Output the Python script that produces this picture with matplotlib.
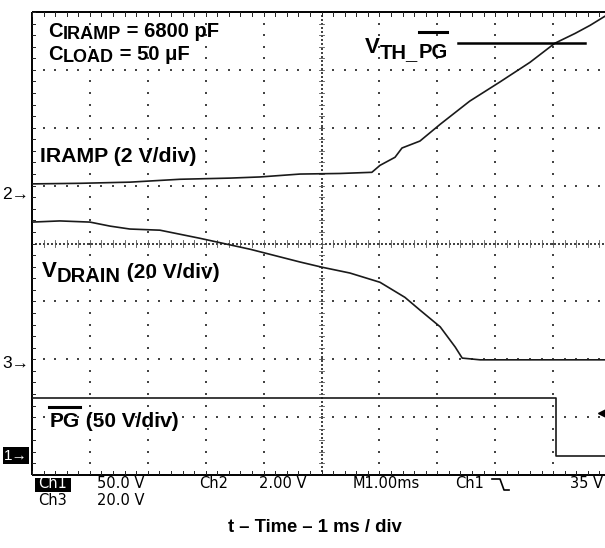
import numpy as np
import matplotlib
matplotlib.use('Agg')
import matplotlib.pyplot as plt
from matplotlib.lines import Line2D
from matplotlib.patches import Rectangle

W, H = 605, 548

# traces, in divisions (x: 1 ms/div, y: 8 div high)
iramp_t = [0.00, 0.83, 1.69, 2.56, 3.42, 3.94, 4.63, 5.32, 5.87, 6.01, 6.27, 6.39,
           6.70, 7.05, 7.56, 8.08, 8.60, 9.03, 9.38, 9.64, 9.90]
iramp_v = [5.03, 5.04, 5.06, 5.11, 5.13, 5.15, 5.20, 5.21, 5.23, 5.35, 5.49, 5.65,
           5.77, 6.06, 6.46, 6.79, 7.13, 7.46, 7.63, 7.77, 7.93]

vdrain_t = [0.00, 0.48, 1.00, 1.35, 1.69, 2.21, 2.90, 3.77, 4.63, 5.01, 5.49, 6.01,
            6.44, 6.70, 7.05, 7.31, 7.43, 7.74, 9.90]
vdrain_v = [4.37, 4.39, 4.37, 4.30, 4.25, 4.23, 4.09, 3.90, 3.68, 3.59, 3.49, 3.33,
            3.07, 2.85, 2.56, 2.21, 2.02, 1.99, 1.99]

pg_t = [0.00, 9.05, 9.05, 9.90]
pg_v = [1.33, 1.33, 0.33, 0.33]

vth_t = [7.36, 9.55]
vth_v = [7.46, 7.46]

# channel ground markers and trigger level
gnd_labels = ['2', '3', '1']
gnd_y = [4.84, 1.93, 0.33]
trig_y = 1.07

BOLD = ['Liberation Sans', 'DejaVu Sans']
SCOPE = 'DejaVu Sans'

fig = plt.figure(figsize=(W / 100, H / 100), dpi=100)
ax = fig.add_axes([32 / W, 73 / H, 579 / W, 463 / H])
ax.set_xlim(0, 10)
ax.set_ylim(0, 8)
ax.axis('off')

# graticule
minor_x = np.arange(0, 10.01, 0.2)
minor_y = np.arange(0, 8.01, 0.2)
dot = dict(marker='s', s=0.8, color='#444444', linewidths=0, clip_on=False)
for i in range(1, 10):
    if i != 5:
        ax.scatter(np.full_like(minor_y, i), minor_y, **dot)
for j in range(1, 8):
    if j != 4:
        ax.scatter(minor_x, np.full_like(minor_x, j), **dot)
# centre cross
ax.scatter(np.full(115, 5.0), np.linspace(0, 8, 115), **dot)
ax.scatter(np.linspace(0, 10, 145), np.full(145, 4.0), **dot)
for y in minor_y:
    ax.plot([4.95, 5.05], [y, y], color='#555555', lw=0.6)
for x in minor_x:
    ax.plot([x, x], [3.94, 4.06], color='#555555', lw=0.6)
# frame and its ticks
fr = dict(color='black', lw=1.4, clip_on=False, solid_capstyle='butt')
ax.plot([0, 10.5], [8, 8], **fr)
ax.plot([0, 10.5], [0, 0], **fr)
ax.plot([0, 0], [0, 8], **fr)
for x in minor_x:
    ax.plot([x, x], [8, 7.93], color='#222222', lw=0.7)
    ax.plot([x, x], [0, 0.07], color='#222222', lw=0.7)
for y in minor_y:
    ax.plot([0, 0.06], [y, y], color='#222222', lw=0.7)

# traces
tr = dict(color='#1a1a1a', lw=1.2)
ax.plot(iramp_t, iramp_v, **tr)
ax.plot(vdrain_t, vdrain_v, **tr)
ax.plot(pg_t, pg_v, **tr)
ax.plot(vth_t, vth_v, color='black', lw=1.8)

# ground markers
for lab, y in zip(gnd_labels, gnd_y):
    if lab == '1':
        ax.text(-0.07, y, lab + '\u2192', ha='right', va='center', fontsize=11,
                family=BOLD, color='white', clip_on=False,
                bbox=dict(boxstyle='square,pad=0.1', fc='black', ec='none'))
    else:
        ax.text(-0.05, y, lab + '\u2192', ha='right', va='center', fontsize=12.5,
                family=BOLD, clip_on=False)
ax.plot([9.86], [trig_y], marker='<', ms=7, color='black', clip_on=False)

r = fig.canvas.get_renderer()


def rich(x, y, parts):
    xs = [x]
    for s, size, dy in parts:
        t = fig.text(x / W, 1 - (y + dy) / H, s, fontsize=size, fontweight='bold',
                     family=BOLD, va='baseline', ha='left')
        x += t.get_window_extent(r).width
        xs.append(x)
    return xs


def overline(x0, x1, y, lw=2.2):
    fig.add_artist(Line2D([x0 / W, x1 / W], [1 - y / H] * 2, color='black', lw=lw))


rich(48, 37, [('C', 14.5, 0), ('IRAMP', 13, 2), (' = 6800 pF', 14.5, 0)])
rich(48, 60, [('C', 14.5, 0), ('LOAD', 13, 2), (' = 50 \u03bcF', 14.5, 0)])
xs = rich(365, 53, [('V', 16, 0), ('TH_', 14.5, 5), ('PG', 14.5, 5)])
overline(xs[2] + 1, xs[3], 32)
rich(40, 162, [('IRAMP (2 V/div)', 15.3, 0)])
rich(42, 277, [('V', 16, 0), ('DRAIN', 14.5, 5), (' (20 V/div)', 15, 1)])
xs = rich(50, 427, [('PG', 15, 0), (' (50 V/div)', 15, 0)])
overline(xs[0] - 1, xs[1], 407)

# scope status line: two rows stacked top to top
row1, row2 = 476, 493
st = dict(fontsize=10.5, family=SCOPE, va='top', ha='left')
fig.add_artist(Rectangle((35 / W, 1 - 492 / H), 36 / W, 14 / H, fc='black', ec='none'))
fig.text(38 / W, 1 - row1 / H, 'Ch1', color='white', **st)
fig.text(38 / W, 1 - row2 / H, 'Ch3', **st)
fig.text(97 / W, 1 - row1 / H, '50.0 V', **st)
fig.text(97 / W, 1 - row2 / H, '20.0 V', **st)
fig.text(199 / W, 1 - row1 / H, 'Ch2', **st)
fig.text(259 / W, 1 - row1 / H, '2.00 V', **st)
fig.text(353 / W, 1 - row1 / H, 'M1.00ms', **st)
fig.text(455 / W, 1 - row1 / H, 'Ch1', **st)
fig.text(570 / W, 1 - row1 / H, '35 V', **st)
edge_x = [492, 500, 504, 509]
edge_y = [479, 479, 490, 490]
fig.add_artist(Line2D([v / W for v in edge_x], [1 - v / H for v in edge_y],
                      color='black', lw=1.2))

fig.text(315 / W, 1 - 528 / H, 't \u2013 Time \u2013 1 ms / div', ha='center', va='center',
         fontsize=13.3, fontweight='bold', family=BOLD)

fig.savefig('out.png', dpi=100)
